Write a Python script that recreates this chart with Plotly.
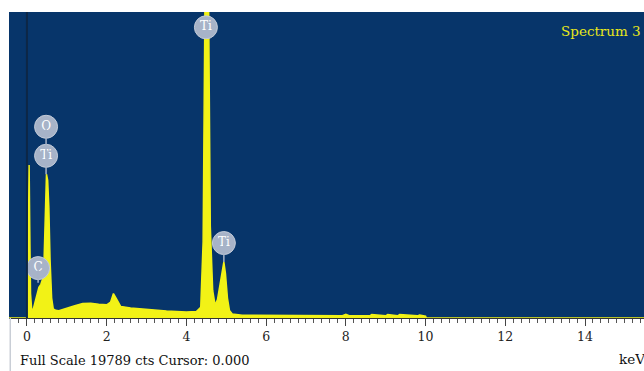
import plotly.graph_objects as go

# ---------------- data ----------------
energy_kev = [
    -0.45, 0.00, 0.02, 0.04, 0.055, 0.07, 0.09, 0.12, 0.16,
    0.20, 0.25, 0.30, 0.35, 0.40, 0.43, 0.46, 0.49, 0.52, 0.55, 0.58, 0.62, 0.66, 0.72,
    0.80, 1.00, 1.20, 1.40, 1.60, 1.80, 2.00, 2.10, 2.17, 2.25, 2.35, 2.60, 3.00, 3.50, 4.00, 4.25,
    4.36, 4.42, 4.47, 4.51, 4.55, 4.60, 4.66, 4.72, 4.78, 4.84, 4.90, 4.94, 4.98, 5.03, 5.08, 5.15,
    5.40, 6.00, 7.00, 7.90, 8.00, 8.10, 8.60, 8.65, 9.00, 9.05, 9.30, 9.35, 9.80, 9.85, 10.0, 10.02, 15.6,
]
counts = [
    0, 0, 600, 3000, 5000, 3000, 800, 250, 300,
    500, 800, 1000, 1100, 1300, 1900, 3600, 4700, 4500, 3600, 1900, 650, 300, 250,
    240, 330, 400, 470, 480, 450, 430, 520, 800, 620, 380, 330, 280, 230, 200, 210,
    350, 2500, 11000, 19789, 11500, 3000, 900, 420, 600, 1100, 1650, 1830, 1450, 650, 250, 130,
    90, 80, 70, 70, 120, 70, 70, 110, 70, 110, 70, 110, 70, 100, 60, 0, 0,
]

label_text = ["Ti", "O", "Ti", "C", "Ti"]
label_energy = [4.49, 0.48, 0.48, 0.28, 4.94]
label_height = [9500, 6250, 5300, 1630, 2450]
stem_bottom = [9500, 5300, 4700, 1150, 1830]

cursor_kev = 0.0
full_scale = 19789
tick_vals = [0, 2, 4, 6, 8, 10, 12, 14]

# ---------------- styling ----------------
NAVY = "#07356a"
YELLOW = "#f2f216"
BADGE = "#a7b3c8"
SERIF = "DejaVu Serif, Liberation Serif, serif"

fig = go.Figure()

fig.add_trace(go.Scatter(
    x=energy_kev, y=counts, mode="lines",
    line=dict(color=YELLOW, width=1.5, shape="linear"),
    fill="tozeroy", fillcolor=YELLOW, hoverinfo="skip", showlegend=False,
))

# cursor line
fig.add_shape(type="line", xref="x", yref="paper", x0=cursor_kev, x1=cursor_kev,
              y0=0, y1=1, line=dict(color="#0d2746", width=2), layer="above")

# left frame edge continuing below the plot
fig.add_shape(type="line", xref="paper", yref="paper", x0=0.002, x1=0.002,
              y0=-0.2, y1=0, line=dict(color="#c9ced6", width=1.5), layer="above")

# label stems
for e, top, bot in zip(label_energy, label_height, stem_bottom):
    fig.add_shape(type="line", xref="x", yref="y", x0=e, x1=e, y0=bot, y1=top,
                  line=dict(color=BADGE, width=1.5), layer="above")

# label badges
fig.add_trace(go.Scatter(
    x=label_energy, y=label_height, mode="markers+text", text=label_text,
    textposition="middle center",
    textfont=dict(family=SERIF, size=12, color="white"),
    marker=dict(size=23, color=BADGE, line=dict(color="#c3cbd8", width=1)),
    cliponaxis=False, hoverinfo="skip", showlegend=False,
))

fig.update_layout(
    width=644, height=371,
    margin=dict(l=9, r=0, t=12, b=53),
    paper_bgcolor="white", plot_bgcolor=NAVY,
    font=dict(family=SERIF, size=13, color="#222222"),
    xaxis=dict(
        range=[-0.45, 15.48], showgrid=False, zeroline=False,
        tickvals=tick_vals, ticktext=[str(v) for v in tick_vals],
        ticks="outside", ticklen=7, tickwidth=1, tickcolor="#444444",
        minor=dict(dtick=0.2, ticks="outside", ticklen=4, tickcolor="#555555", tickwidth=1, showgrid=False),
        showline=True, linecolor="#333333", linewidth=1,
        tickfont=dict(family=SERIF, size=12.5, color="#222222"),
    ),
    yaxis=dict(range=[0, 10000], visible=False, showgrid=False, zeroline=False),
    annotations=[
        dict(text="Spectrum 3", xref="paper", yref="paper", x=0.998, y=0.938,
             xanchor="right", yanchor="middle", showarrow=False,
             font=dict(family=SERIF, size=13.5, color="#e8e81a")),
        dict(text=f"Full Scale {full_scale} cts Cursor: {cursor_kev:.3f}", xref="paper", yref="paper",
             x=0.014, y=-0.138, xanchor="left", yanchor="middle", showarrow=False,
             font=dict(family=SERIF, size=13, color="#111111")),
        dict(text="keV", xref="paper", yref="paper", x=0.958, y=-0.135,
             xanchor="left", yanchor="middle", showarrow=False,
             font=dict(family=SERIF, size=13.5, color="#111111")),
    ],
)

fig.write_html("out.html", config={"displayModeBar": False},
               post_script="document.body.style.margin='0px';document.body.style.overflow='hidden';")
